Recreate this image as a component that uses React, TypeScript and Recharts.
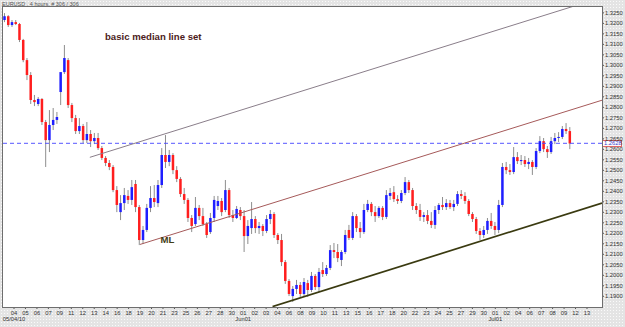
import { ComposedChart, Bar, XAxis, YAxis, CartesianGrid, ReferenceLine } from 'recharts';

// EURUSD 4h, one candle per two bars
const openP = [
  1.3216, 1.3234, 1.3192, 1.3206, 1.3197, 1.3121, 1.3025, 1.2954, 1.2835, 1.2816,
  1.2840, 1.2730, 1.2644, 1.2716, 1.2740, 1.2873, 1.2968, 1.3025, 1.2811, 1.2749,
  1.2687, 1.2711, 1.2644, 1.2673, 1.2639, 1.2654, 1.2606, 1.2559, 1.2535, 1.2516,
  1.2406, 1.2301, 1.2344, 1.2378, 1.2359, 1.2435, 1.2325, 1.2168, 1.2216, 1.2321,
  1.2368, 1.2344, 1.2430, 1.2573, 1.2540, 1.2573, 1.2501, 1.2459, 1.2387, 1.2359,
  1.2273, 1.2244, 1.2321, 1.2282, 1.2244, 1.2206, 1.2273, 1.2330, 1.2354, 1.2311,
  1.2406, 1.2287, 1.2273, 1.2311, 1.2282, 1.2187, 1.2225, 1.2268, 1.2225, 1.2235,
  1.2211, 1.2268, 1.2292, 1.2192, 1.2168, 1.2063, 1.1973, 1.1901, 1.1935, 1.1954,
  1.1911, 1.1963, 1.1930, 1.1997, 1.1944, 1.2025, 1.2006, 1.2035, 1.2120, 1.2111,
  1.2073, 1.2111, 1.2216, 1.2178, 1.2282, 1.2225, 1.2206, 1.2311, 1.2340, 1.2301,
  1.2282, 1.2321, 1.2278, 1.2378, 1.2396, 1.2363, 1.2354, 1.2392, 1.2444, 1.2406,
  1.2330, 1.2311, 1.2278, 1.2287, 1.2259, 1.2240, 1.2311, 1.2335, 1.2325, 1.2344,
  1.2325, 1.2340, 1.2387, 1.2378, 1.2354, 1.2292, 1.2268, 1.2211, 1.2192, 1.2216,
  1.2259, 1.2235, 1.2216, 1.2335, 1.2516, 1.2501, 1.2492, 1.2563, 1.2544, 1.2549,
  1.2530, 1.2540, 1.2516, 1.2592, 1.2639, 1.2601, 1.2587, 1.2639, 1.2654, 1.2659,
  1.2697, 1.2687,
];
const highP = [
  1.3249, 1.3239, 1.3216, 1.3216, 1.3202, 1.3126, 1.3035, 1.2968, 1.2859, 1.2849,
  1.2844, 1.2740, 1.2787, 1.2797, 1.2778, 1.2901, 1.3097, 1.3035, 1.2821, 1.2764,
  1.2749, 1.2721, 1.2730, 1.2692, 1.2678, 1.2678, 1.2616, 1.2568, 1.2549, 1.2525,
  1.2425, 1.2382, 1.2416, 1.2406, 1.2454, 1.2454, 1.2335, 1.2235, 1.2340, 1.2425,
  1.2430, 1.2454, 1.2606, 1.2668, 1.2597, 1.2582, 1.2520, 1.2468, 1.2416, 1.2368,
  1.2287, 1.2373, 1.2335, 1.2321, 1.2254, 1.2297, 1.2378, 1.2378, 1.2368, 1.2454,
  1.2416, 1.2311, 1.2330, 1.2325, 1.2311, 1.2263, 1.2349, 1.2282, 1.2254, 1.2244,
  1.2287, 1.2311, 1.2301, 1.2201, 1.2197, 1.2073, 1.1982, 1.1949, 1.1978, 1.1968,
  1.1987, 1.1978, 1.2016, 1.2006, 1.2035, 1.2063, 1.2049, 1.2144, 1.2154, 1.2149,
  1.2120, 1.2216, 1.2240, 1.2301, 1.2292, 1.2254, 1.2340, 1.2359, 1.2349, 1.2330,
  1.2330, 1.2330, 1.2406, 1.2416, 1.2425, 1.2382, 1.2406, 1.2468, 1.2454, 1.2416,
  1.2344, 1.2340, 1.2301, 1.2311, 1.2301, 1.2330, 1.2344, 1.2373, 1.2363, 1.2359,
  1.2359, 1.2401, 1.2406, 1.2396, 1.2363, 1.2301, 1.2278, 1.2225, 1.2235, 1.2273,
  1.2297, 1.2254, 1.2359, 1.2535, 1.2540, 1.2530, 1.2611, 1.2587, 1.2573, 1.2568,
  1.2559, 1.2549, 1.2606, 1.2663, 1.2654, 1.2616, 1.2659, 1.2678, 1.2682, 1.2711,
  1.2725, 1.2706,
];
const lowP = [
  1.3206, 1.3183, 1.3183, 1.3192, 1.3111, 1.3015, 1.2930, 1.2816, 1.2806, 1.2806,
  1.2716, 1.2516, 1.2587, 1.2692, 1.2721, 1.2811, 1.2959, 1.2797, 1.2730, 1.2673,
  1.2673, 1.2630, 1.2630, 1.2611, 1.2625, 1.2597, 1.2549, 1.2520, 1.2501, 1.2396,
  1.2301, 1.2263, 1.2311, 1.2340, 1.2335, 1.2301, 1.2144, 1.2149, 1.2206, 1.2301,
  1.2325, 1.2325, 1.2416, 1.2511, 1.2520, 1.2482, 1.2444, 1.2373, 1.2340, 1.2254,
  1.2206, 1.2235, 1.2263, 1.2235, 1.2178, 1.2197, 1.2254, 1.2311, 1.2282, 1.2301,
  1.2273, 1.2254, 1.2268, 1.2263, 1.2111, 1.2149, 1.2197, 1.2201, 1.2197, 1.2187,
  1.2201, 1.2244, 1.2178, 1.2149, 1.2044, 1.1959, 1.1901, 1.1873, 1.1911, 1.1897,
  1.1901, 1.1897, 1.1920, 1.1930, 1.1920, 1.1992, 1.1997, 1.2025, 1.2082, 1.2063,
  1.2044, 1.2101, 1.2168, 1.2168, 1.2206, 1.2178, 1.2197, 1.2301, 1.2282, 1.2254,
  1.2273, 1.2263, 1.2268, 1.2359, 1.2349, 1.2340, 1.2344, 1.2382, 1.2392, 1.2311,
  1.2292, 1.2259, 1.2254, 1.2244, 1.2225, 1.2221, 1.2292, 1.2311, 1.2311, 1.2316,
  1.2306, 1.2330, 1.2363, 1.2340, 1.2282, 1.2254, 1.2197, 1.2168, 1.2178, 1.2197,
  1.2221, 1.2192, 1.2201, 1.2325, 1.2482, 1.2478, 1.2482, 1.2530, 1.2525, 1.2516,
  1.2506, 1.2478, 1.2506, 1.2582, 1.2587, 1.2559, 1.2578, 1.2625, 1.2635, 1.2649,
  1.2673, 1.2601,
];
const closeP = [
  1.3234, 1.3192, 1.3206, 1.3197, 1.3121, 1.3025, 1.2954, 1.2835, 1.2825, 1.2840,
  1.2730, 1.2644, 1.2716, 1.2740, 1.2754, 1.2968, 1.3035, 1.2811, 1.2749, 1.2687,
  1.2711, 1.2644, 1.2673, 1.2639, 1.2654, 1.2606, 1.2559, 1.2535, 1.2516, 1.2406,
  1.2335, 1.2344, 1.2382, 1.2359, 1.2420, 1.2325, 1.2168, 1.2216, 1.2321, 1.2368,
  1.2349, 1.2430, 1.2573, 1.2540, 1.2573, 1.2501, 1.2459, 1.2387, 1.2359, 1.2273,
  1.2235, 1.2321, 1.2282, 1.2244, 1.2192, 1.2273, 1.2359, 1.2354, 1.2301, 1.2406,
  1.2287, 1.2273, 1.2316, 1.2282, 1.2187, 1.2235, 1.2268, 1.2225, 1.2235, 1.2211,
  1.2268, 1.2292, 1.2192, 1.2168, 1.2063, 1.1973, 1.1911, 1.1935, 1.1954, 1.1911,
  1.1968, 1.1930, 1.1997, 1.1944, 1.2016, 1.2006, 1.2035, 1.2120, 1.2111, 1.2082,
  1.2111, 1.2192, 1.2178, 1.2282, 1.2225, 1.2206, 1.2311, 1.2340, 1.2301, 1.2282,
  1.2321, 1.2278, 1.2382, 1.2392, 1.2363, 1.2354, 1.2392, 1.2444, 1.2406, 1.2330,
  1.2311, 1.2278, 1.2287, 1.2259, 1.2240, 1.2311, 1.2335, 1.2325, 1.2344, 1.2325,
  1.2340, 1.2387, 1.2378, 1.2354, 1.2292, 1.2268, 1.2211, 1.2192, 1.2216, 1.2259,
  1.2235, 1.2216, 1.2335, 1.2516, 1.2501, 1.2492, 1.2563, 1.2544, 1.2549, 1.2530,
  1.2540, 1.2516, 1.2592, 1.2639, 1.2601, 1.2587, 1.2639, 1.2654, 1.2659, 1.2697,
  1.2687, 1.2628,
];

const bid = 1.2628;

const dayLabels = [
  '04', '05', '06', '07', '09', '11', '12', '13', '14', '16',
  '18', '19', '20', '21', '23', '25', '26', '27', '28', '30',
  '01', '02', '03', '04', '06', '08', '09', '10', '11', '13',
  '15', '16', '17', '18', '20', '22', '23', '24', '25', '27',
  '29', '30', '01', '02', '04', '06', '07', '08', '09', '12', '13',
];
const monthLabels: Record<number, string> = { 0: '05/04/10', 20: 'Jun01', 42: 'Jul01' };

const priceTicks = [
  1.19, 1.195, 1.2, 1.205, 1.21, 1.215, 1.22, 1.225, 1.23, 1.235,
  1.24, 1.245, 1.25, 1.255, 1.26, 1.265, 1.27, 1.275, 1.28, 1.285,
  1.29, 1.295, 1.3, 1.305, 1.31, 1.315, 1.32, 1.325,
];

// median line set, in candle index / price
const upperLine = [{ x: 22.7, y: 1.2562 }, { x: 159.5, y: 1.3324 }];
const medianLine = [{ x: 36.1, y: 1.2147 }, { x: 159.5, y: 1.2834 }];
const lowerLine = [{ x: 71.5, y: 1.1851 }, { x: 159.5, y: 1.2344 }];

const candles = openP.map((open, i) => ({
  i,
  open,
  high: highP[i],
  low: lowP[i],
  close: closeP[i],
  range: [lowP[i], highP[i]],
}));

// date labels sit every 6 bars (about 3.06 candles)
const dayTicks = dayLabels.map((_, k) => 2.44 + 3.061 * k);

const font = '"Liberation Sans", Arial, sans-serif';

function Candle(props: any) {
  const { x, y, width, height, payload } = props;
  if (x == null || y == null || !payload) return null;
  const { open, high, low, close } = payload;
  const top = Math.min(y, y + height);
  const h = Math.abs(height);
  const span = high - low || 1;
  const py = (v: number) => top + ((high - v) / span) * h;
  const cx = x + width / 2;
  const bodyTop = py(Math.max(open, close));
  const bodyH = Math.max(1, py(Math.min(open, close)) - bodyTop);
  return (
    <g>
      <rect x={cx - 0.5} y={top} width={1} height={Math.max(h, 1)} fill="#8e8e8e" />
      <rect
        x={cx - 1.25}
        y={bodyTop}
        width={2.5}
        height={bodyH}
        fill={close >= open ? '#1e1eff' : '#ff1e1e'}
      />
    </g>
  );
}

function DayTick(props: any) {
  const { x, y, index } = props;
  const month = monthLabels[index];
  return (
    <g>
      <text x={x} y={y + 3.5} textAnchor="middle" fontSize={5.8} fontFamily={font} fill="#333">
        {dayLabels[index]}
      </text>
      {month && (
        <text x={x} y={y + 10} textAnchor="middle" fontSize={5.8} fontFamily={font} fill="#333">
          {month}
        </text>
      )}
    </g>
  );
}

function BidTag(props: any) {
  const { viewBox } = props;
  if (!viewBox) return null;
  const x = viewBox.x + viewBox.width;
  const y = viewBox.y;
  return (
    <g>
      <rect x={x + 0.5} y={y - 3} width={19} height={6} fill="#fff" stroke="#e06060" strokeWidth={1} />
      <text x={x + 2} y={y + 2} fontSize={5.8} fontFamily={font} fill="#3a3ac8">
        {bid.toFixed(4)}
      </text>
    </g>
  );
}

export default function App() {
  return (
    <div
      style={{
        position: 'absolute',
        left: 0,
        top: 0,
        width: 625,
        height: 327,
        backgroundColor: '#e4e4e4',
        backgroundImage: 'radial-gradient(circle, #fafafa 0.7px, transparent 0.8px)',
        backgroundSize: '3px 3px',
        overflow: 'hidden',
      }}
    >
      <ComposedChart
        width={625}
        height={327}
        data={candles}
        margin={{ top: 7, right: 0, bottom: 0, left: 3 }}
      >
        <CartesianGrid horizontal={false} vertical={false} fill="#ffffff" />
        <XAxis
          dataKey="i"
          type="number"
          domain={[-0.5, 159.5]}
          allowDataOverflow
          ticks={dayTicks}
          interval={0}
          height={20}
          axisLine={false}
          tickSize={2}
          tickLine={{ stroke: '#555' }}
          tick={(p: any) => <DayTick {...p} />}
        />
        <YAxis
          orientation="right"
          type="number"
          domain={[1.1849, 1.3278]}
          allowDataOverflow
          ticks={priceTicks}
          interval={0}
          width={23}
          axisLine={false}
          tickSize={2}
          tickMargin={1}
          tickLine={{ stroke: '#555' }}
          tick={{ fontSize: 5.8, fill: '#333', fontFamily: font }}
          tickFormatter={(v: number) => v.toFixed(4)}
        />
        <ReferenceLine
          y={bid}
          stroke="#4b4bff"
          strokeOpacity={0.75}
          strokeWidth={1.2}
          strokeDasharray="4 3"
          label={<BidTag />}
        />
        <ReferenceLine segment={upperLine} ifOverflow="hidden" stroke="#8a7e8a" strokeWidth={1} />
        <ReferenceLine segment={medianLine} ifOverflow="hidden" stroke="#a65a5a" strokeWidth={1} />
        <ReferenceLine segment={lowerLine} ifOverflow="hidden" stroke="#3a3a10" strokeWidth={1.7} />
        <Bar dataKey="range" shape={Candle} barSize={3} isAnimationActive={false} />
      </ComposedChart>
      <div
        style={{
          position: 'absolute',
          left: 2,
          top: 6,
          width: 601,
          height: 302,
          boxSizing: 'border-box',
          border: '1px solid #6e6e6e',
          pointerEvents: 'none',
        }}
      />
      <svg
        width={625}
        height={327}
        style={{ position: 'absolute', left: 0, top: 0, pointerEvents: 'none' }}
      >
        <text x={2} y={5.5} fontSize={5.5} fontFamily={font} fill="#555">
          EURUSD , 4 hours, # 306 / 306
        </text>
        <text x={105} y={39.5} fontSize={9.6} fontWeight="bold" fontFamily={font} fill="#4d1c1c">
          basic median line set
        </text>
        <text x={160.5} y={242.5} fontSize={9.6} fontWeight="bold" fontFamily={font} fill="#3f3d16">
          ML
        </text>
      </svg>
    </div>
  );
}
